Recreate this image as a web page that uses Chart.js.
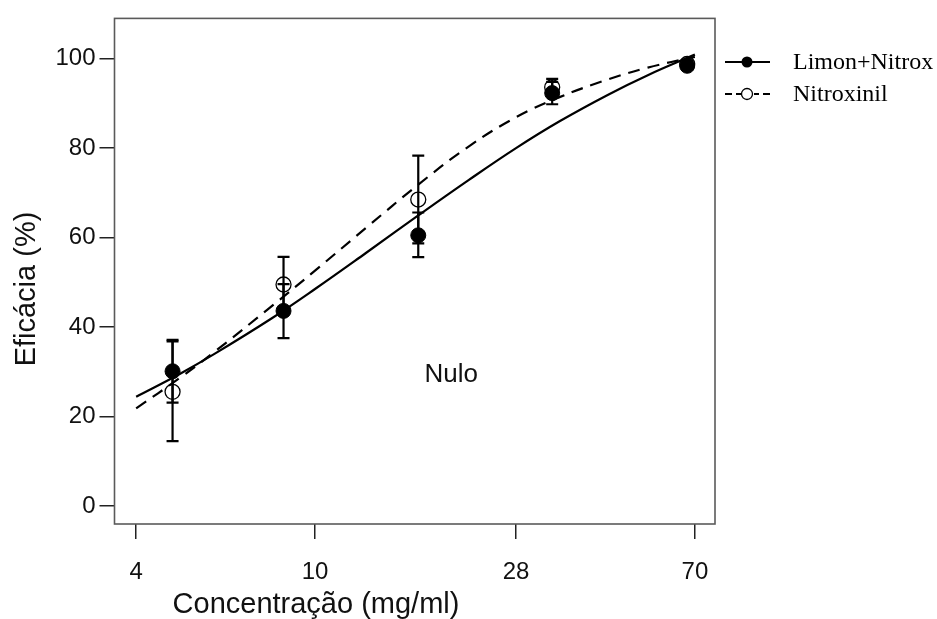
<!DOCTYPE html>
<html>
<head>
<meta charset="utf-8">
<script src="https://cdn.jsdelivr.net/npm/chart.js@4"></script>
<style>
html,body{margin:0;padding:0;background:#fff;}
canvas{display:block;}
</style>
</head>
<body>
<canvas id="c" width="937" height="619"></canvas>
<script>
// ---- data ----
const doses = [4.82, 8.51, 16.97, 33.7, 67.3];
const limonMean = [30.1, 43.6, 60.5, 92.3, 98.4];
const limonLow  = [23.1, 37.5, 55.6, 89.8, 97.6];
const limonHigh = [37.1, 49.6, 65.6, 94.8, 99.2];
const nitroMean = [25.5, 49.5, 68.5, 93.6, 98.8];
const nitroLow  = [14.5, 43.3, 58.7, 91.7, 98.0];
const nitroHigh = [36.8, 55.7, 78.3, 95.5, 99.6];
const curveX     = [4, 5, 6, 8, 10, 13, 17, 22, 28, 35, 45, 55, 70];
const limonCurve = [24.4, 29.5, 34.1, 41.9, 48.5, 56.6, 65.0, 72.9, 80.0, 86.0, 92.0, 96.3, 100.9];
const nitroCurve = [21.8, 28.6, 34.6, 44.6, 52.6, 62.2, 71.9, 80.4, 86.9, 91.4, 95.4, 98.0, 100.4];
const xTicks = [4, 10, 28, 70];
const yTicks = [0, 20, 40, 60, 80, 100];
const seriesNames = ['Limon+Nitrox', 'Nitroxinil'];
const xTitle = 'Concentração (mg/ml)';
const yTitle = 'Eficácia (%)';
const note = 'Nulo';
const notePos = {x: 20.1, y: 29.2};

const pts = (xs, ys) => xs.map((x, i) => ({x: x, y: ys[i]}));
const SANS = '"Liberation Sans", Arial, sans-serif';
const SERIF = '"Liberation Serif", "Times New Roman", serif';

const overlay = {
  id: 'overlay',
  beforeDatasetsDraw(chart) {
    const {ctx, chartArea: a} = chart;
    ctx.save();
    ctx.strokeStyle = '#5a5a5a';
    ctx.lineWidth = 1.6;
    ctx.strokeRect(a.left, a.top, a.right - a.left, a.bottom - a.top);
    ctx.restore();
  },
  afterDatasetsDraw(chart) {
    const {ctx, chartArea: a} = chart;
    const xs = chart.scales.x, ys = chart.scales.y;
    ctx.save();
    ctx.strokeStyle = '#000';
    ctx.lineWidth = 2.2;
    const bars = (lo, hi) => {
      doses.forEach((d, i) => {
        const px = xs.getPixelForValue(d);
        const p1 = ys.getPixelForValue(lo[i]);
        const p2 = ys.getPixelForValue(hi[i]);
        ctx.beginPath();
        ctx.moveTo(px, p1); ctx.lineTo(px, p2);
        ctx.moveTo(px - 6, p1); ctx.lineTo(px + 6, p1);
        ctx.moveTo(px - 6, p2); ctx.lineTo(px + 6, p2);
        ctx.stroke();
      });
    };
    bars(limonLow, limonHigh);
    bars(nitroLow, nitroHigh);

    // note text
    ctx.fillStyle = '#111';
    ctx.font = '26px ' + SANS;
    ctx.textAlign = 'center';
    ctx.textBaseline = 'middle';
    ctx.fillText(note, xs.getPixelForValue(notePos.x), ys.getPixelForValue(notePos.y));

    // axis titles
    ctx.font = '29px ' + SANS;
    ctx.fillText(xTitle, 316, 605);
    ctx.save();
    ctx.translate(27, 289);
    ctx.rotate(-Math.PI / 2);
    ctx.fillText(yTitle, 0, 0);
    ctx.restore();

    // legend
    const lx = a.right + 10;
    ctx.font = '24px ' + SERIF;
    ctx.textAlign = 'left';
    ctx.fillStyle = '#000';
    let y1 = 62;
    ctx.lineWidth = 1.8;
    ctx.beginPath(); ctx.moveTo(lx, y1); ctx.lineTo(lx + 45, y1); ctx.stroke();
    ctx.beginPath(); ctx.arc(lx + 22, y1, 5.5, 0, Math.PI * 2); ctx.fill();
    ctx.fillText(seriesNames[0], lx + 68, y1 + 1);
    let y2 = 94;
    ctx.beginPath();
    [[0, 7], [11, 16], [29, 34], [38, 45]].forEach(s => { ctx.moveTo(lx + s[0], y2); ctx.lineTo(lx + s[1], y2); });
    ctx.stroke();
    ctx.lineWidth = 1.3;
    ctx.beginPath(); ctx.arc(lx + 22, y2, 5.5, 0, Math.PI * 2); ctx.stroke();
    ctx.fillText(seriesNames[1], lx + 68, y2 + 1);
    ctx.restore();
  }
};

new Chart(document.getElementById('c'), {
  type: 'line',
  data: {
    datasets: [
      {label: seriesNames[0] + ' fit', data: pts(curveX, limonCurve), borderColor: '#000', borderWidth: 2.2,
       pointRadius: 0, tension: 0.4, fill: false},
      {label: seriesNames[1] + ' fit', data: pts(curveX, nitroCurve), borderColor: '#000', borderWidth: 2.2,
       borderDash: [12, 8], pointRadius: 0, tension: 0.4, fill: false},
      {label: seriesNames[0], data: pts(doses, limonMean), showLine: false, pointRadius: 7.5,
       pointBackgroundColor: '#000', pointBorderColor: '#000', pointBorderWidth: 1},
      {label: seriesNames[1], data: pts(doses, nitroMean), showLine: false, pointRadius: 7.5,
       pointBackgroundColor: 'rgba(0,0,0,0)', pointBorderColor: '#000', pointBorderWidth: 1.3}
    ]
  },
  options: {
    responsive: false,
    animation: false,
    devicePixelRatio: 1,
    layout: {padding: {left: 0, top: 14, right: 222, bottom: 0}},
    plugins: {legend: {display: false}, tooltip: {enabled: false}},
    scales: {
      x: {
        type: 'logarithmic',
        min: 3.58, max: 77.6,
        afterBuildTicks: s => { s.ticks = xTicks.map(v => ({value: v})); },
        afterFit: s => { s.height = 95; },
        ticks: {color: '#111', font: {family: SANS, size: 24}, padding: 19,
                callback: v => String(v), maxRotation: 0, autoSkip: false},
        grid: {drawOnChartArea: false, tickLength: 15, color: '#222', lineWidth: 1.5},
        border: {display: false}
      },
      y: {
        type: 'linear',
        min: -4.05, max: 109,
        afterBuildTicks: s => { s.ticks = yTicks.map(v => ({value: v})); },
        afterFit: s => { s.width = 114.5; },
        ticks: {color: '#111', font: {family: SANS, size: 24}, padding: 4, autoSkip: false},
        grid: {drawOnChartArea: false, tickLength: 15, color: '#222', lineWidth: 1.5},
        border: {display: false}
      }
    }
  },
  plugins: [overlay]
});
</script>
</body>
</html>
